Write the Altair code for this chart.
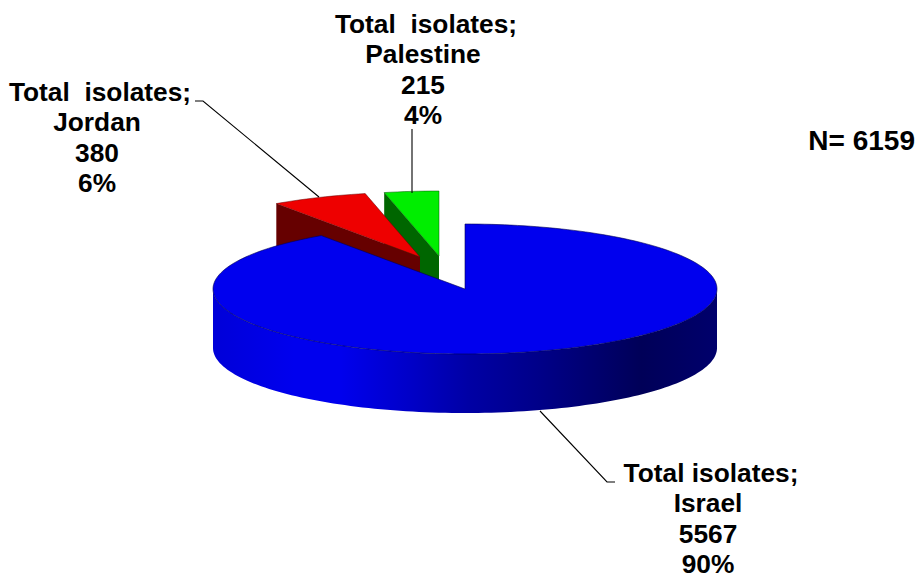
import math
import altair as alt

# Data
countries = ["Israel", "Jordan", "Palestine"]
isolates = [5567, 380, 215]
percents = ["90%", "6%", "4%"]
top_colors = ["#0000EE", "#EE0000", "#00EE00"]
edge_colors = ["#000050", "#600000", "#005000"]
wall_colors = ["#0000EE", "#660000", "#006600"]
label_spacers = ["Total isolates;", "Total\u00a0\u00a0isolates;", "Total\u00a0\u00a0isolates;"]
total_note = "N= 6159"

# Pie layout in picture pixels
CX, CY, RX, RY, DEPTH = 465, 289, 252, 65, 59
EXPLODE = [(0, 0), (-45, -32), (-26, -33)]
FONT = "Liberation Sans"
PROJ = alt.Projection(type="identity", scale=1, translate=[-8, -8])


def point(deg, off=(0, 0), drop=0):
    a = math.radians(deg)
    return [CX + off[0] + RX * math.sin(a), CY + off[1] - RY * math.cos(a) + drop]


def arc(a0, a1, off=(0, 0), drop=0):
    n = max(2, int(abs(a1 - a0) / 1.5))
    return [point(a0 + (a1 - a0) * i / n, off, drop) for i in range(n + 1)]


def shape(coords, kind="Polygon"):
    geom = {"type": kind, "coordinates": [coords] if kind == "Polygon" else coords}
    return alt.InlineData(values=[{"type": "Feature", "properties": {}, "geometry": geom}])


def poly(coords, **mark):
    return alt.Chart(shape(coords + [coords[0]])).mark_geoshape(**mark).project(**PROJ.to_dict())


def leader(coords):
    return (
        alt.Chart(shape(coords, "LineString"))
        .mark_geoshape(filled=False, stroke="#000000", strokeWidth=1.1)
        .project(**PROJ.to_dict())
    )


total = sum(isolates)
spans = []
start = 0.0
for v in isolates:
    spans.append((start, start + 360.0 * v / total))
    start += 360.0 * v / total

layers = []

# Cut faces of the two pulled-out slices (green first, red goes over it)
for i in (2, 1):
    a0, _ = spans[i]
    off = EXPLODE[i]
    apex = [CX + off[0], CY + off[1]]
    p = point(a0, off)
    layers.append(
        poly([apex, p, [p[0], p[1] + DEPTH], [apex[0], apex[1] + DEPTH]],
             fill=wall_colors[i], strokeWidth=0)
    )

# Top faces of the two pulled-out slices
for i in (2, 1):
    a0, a1 = spans[i]
    off = EXPLODE[i]
    apex = [CX + off[0], CY + off[1]]
    layers.append(
        poly([apex] + arc(a0, a1, off), fill=top_colors[i],
             stroke=edge_colors[i], strokeWidth=0.5)
    )

# Blue rim with its left-to-right shading
rim = arc(90, 270) + arc(270, 90, drop=DEPTH)
shade = alt.Gradient(
    gradient="linear", x1=0, x2=1, y1=0, y2=0,
    stops=[
        alt.GradientStop(offset=0, color="#0000D8"),
        alt.GradientStop(offset=0.16, color="#0000EE"),
        alt.GradientStop(offset=0.25, color="#0000EE"),
        alt.GradientStop(offset=0.39, color="#0000C8"),
        alt.GradientStop(offset=0.51, color="#0000A4"),
        alt.GradientStop(offset=0.65, color="#000088"),
        alt.GradientStop(offset=0.85, color="#000058"),
        alt.GradientStop(offset=1, color="#00006C"),
    ],
)
layers.append(poly(rim, fill=shade, strokeWidth=0))

# Blue top face
a0, a1 = spans[0]
layers.append(
    poly([[CX, CY]] + arc(a0, a1), fill=top_colors[0],
         stroke=edge_colors[0], strokeWidth=0.6)
)

# Leader lines
layers.append(leader([[195, 101], [203, 101], [319, 197]]))
layers.append(leader([[412, 129], [412, 193]]))
layers.append(leader([[540, 411], [607, 482], [615, 482]]))

# Labels, one row per line of text
label_rows = []
for i, (xc, base) in enumerate([(711, 482), (100, 101), (426, 33)]):
    lines = [label_spacers[i], countries[i], str(isolates[i]), percents[i]]
    for k, line in enumerate(lines):
        label_rows.append({
            "lon": xc if k == 0 else xc - 3,
            "lat": base + 30.4 * k,
            "txt": line,
        })

labels = (
    alt.Chart(alt.InlineData(values=label_rows))
    .mark_text(font=FONT, fontWeight="bold", fontSize=26.3, color="#000000",
               align="center", baseline="alphabetic")
    .encode(longitude="lon:Q", latitude="lat:Q", text="txt:N")
    .project(**PROJ.to_dict())
)
note = (
    alt.Chart(alt.InlineData(values=[{"lon": 915, "lat": 149.5, "txt": total_note}]))
    .mark_text(font=FONT, fontWeight="bold", fontSize=28, color="#000000",
               align="right", baseline="alphabetic")
    .encode(longitude="lon:Q", latitude="lat:Q", text="txt:N")
    .project(**PROJ.to_dict())
)
layers += [labels, note]

chart = (
    alt.layer(*layers)
    .properties(width=908, height=570, padding=0, autosize=alt.AutoSizeParams(type="none"),
                background="#FFFFFF")
    .configure_view(strokeWidth=0)
)
chart.save("out.html", embed_options={"renderer": "svg", "actions": False})
